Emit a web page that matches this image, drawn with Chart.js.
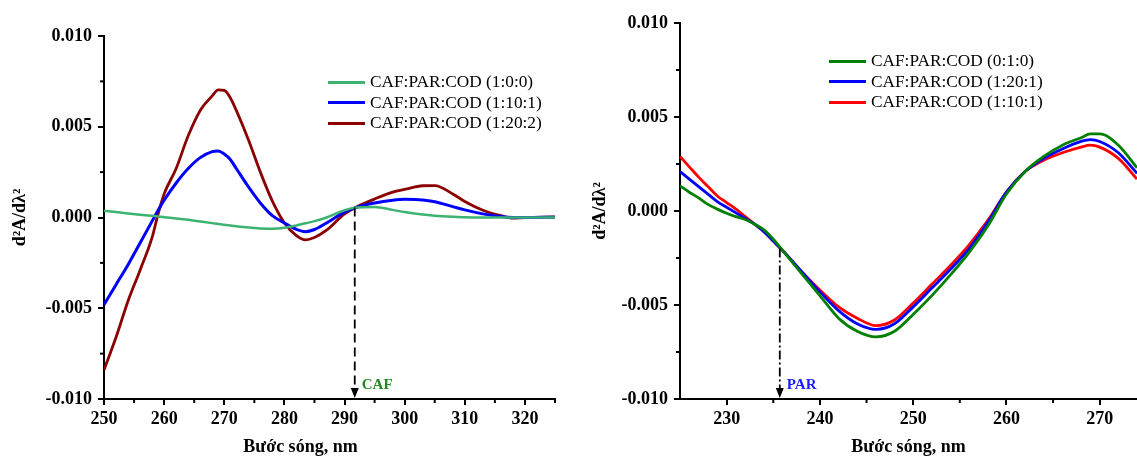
<!DOCTYPE html>
<html>
<head>
<meta charset="utf-8">
<script src="https://cdn.jsdelivr.net/npm/chart.js@4"></script>
<style>
  body { margin: 0; background: #fff; }
  #wrap { position: relative; width: 1137px; height: 456px; overflow: hidden; }
  .panel { position: absolute; top: 0; }
  .legend { position: absolute; font: 17.3px 'Liberation Serif', 'Times New Roman', serif; color: #000; }
  .legend div { display: flex; align-items: center; height: 20.5px; white-space: nowrap; }
  .legend .swatch { display: inline-block; width: 37px; height: 3px; margin-right: 5px; }
</style>
</head>
<body>
<div id="wrap">
  <canvas id="left" class="panel" width="570" height="456" style="left:0"></canvas>
  <canvas id="right" class="panel" width="567" height="456" style="left:570px"></canvas>
  <div id="legendLeft" class="legend" style="left:328px; top:72px"></div>
  <div id="legendRight" class="legend" style="left:829px; top:51px"></div>
</div>
<script>
// ---- left panel (CAF) ----
const cafWavelength = [250, 252, 254, 256, 258, 259, 260, 262, 264, 266, 268, 269, 270, 271, 272, 274, 276, 278, 280, 282, 283.5, 285, 287, 290, 292, 295, 298, 300, 303, 305, 308, 310, 313, 316, 318, 320, 325];
const caf100 = [0.00037, 0.0003, 0.00022, 0.00015, 0.00009, 0.00006, 0.00002, -0.00005, -0.00013, -0.00022, -0.00031, -0.00036, -0.0004, -0.00044, -0.00048, -0.00055, -0.0006, -0.00062, -0.00057, -0.00044, -0.00032, -0.0002, 0, 0.0004, 0.00055, 0.00058, 0.00042, 0.0003, 0.00016, 0.0001, 0.00004, 0.00001, 0, 0, 0, 0, 0];
const caf1101 = [-0.0048, -0.0037, -0.0026, -0.0014, -0.0002, 0.0004, 0.00095, 0.0019, 0.0027, 0.0033, 0.00363, 0.00367, 0.0035, 0.0032, 0.0027, 0.0017, 0.0008, 0.0001, -0.0003, -0.00065, -0.00078, -0.00066, -0.0003, 0.0003, 0.00056, 0.0008, 0.00095, 0.001, 0.00097, 0.00087, 0.0006, 0.00042, 0.0002, 0.00005, 0, 0, 0.00002];
const caf1202 = [-0.0084, -0.0066, -0.0046, -0.0029, -0.0011, 0.0002, 0.0013, 0.0027, 0.0045, 0.0059, 0.0067, 0.00703, 0.007, 0.0066, 0.0059, 0.0043, 0.0025, 0.0009, -0.0003, -0.001, -0.00123, -0.0011, -0.0007, 0.0002, 0.00058, 0.00102, 0.0014, 0.00155, 0.00175, 0.00176, 0.0013, 0.00088, 0.0004, 0.0001, -0.00003, 0, 0.00003];
const cafLabels = ["CAF:PAR:COD (1:0:0)", "CAF:PAR:COD (1:10:1)", "CAF:PAR:COD (1:20:2)"];
const cafXTicks = [250, 260, 270, 280, 290, 300, 310, 320];
const cafXMinor = [255, 265, 275, 285, 295, 305, 315, 325];

// ---- right panel (PAR) ----
const parWavelength = [225, 226, 227, 228, 229, 230, 231, 232, 233, 234, 235, 236, 238, 240, 242, 244, 246, 248, 250, 252, 254, 256, 258, 260, 262, 264, 266, 268, 269, 270, 272, 274];
const par010 = [0.00134, 0.001, 0.0007, 0.00035, 0.0001, -0.00012, -0.0003, -0.00045, -0.0007, -0.001, -0.0015, -0.0021, -0.0033, -0.0045, -0.0057, -0.0064, -0.0067, -0.0064, -0.0055, -0.0045, -0.0034, -0.0022, -0.0008, 0.0009, 0.0021, 0.0029, 0.0035, 0.0039, 0.0041, 0.0041, 0.0035, 0.0023];
const par1201 = [0.0021, 0.0017, 0.0013, 0.0009, 0.0005, 0.0002, -0.0001, -0.0004, -0.0007, -0.0011, -0.0016, -0.0021, -0.0032, -0.0043, -0.0053, -0.006, -0.0063, -0.006, -0.0051, -0.0041, -0.0031, -0.002, -0.0006, 0.001, 0.0021, 0.0028, 0.0033, 0.0037, 0.0038, 0.0037, 0.0031, 0.002];
const par1101 = [0.0029, 0.00235, 0.0018, 0.0013, 0.0008, 0.00045, 0.0001, -0.0003, -0.0007, -0.0011, -0.0016, -0.0021, -0.0032, -0.0042, -0.0051, -0.0057, -0.0061, -0.0058, -0.0049, -0.0039, -0.0029, -0.0018, -0.0005, 0.001, 0.0021, 0.0027, 0.0031, 0.0034, 0.0035, 0.0034, 0.0028, 0.0017];
const parLabels = ["CAF:PAR:COD (0:1:0)", "CAF:PAR:COD (1:20:1)", "CAF:PAR:COD (1:10:1)"];
const parXTicks = [230, 240, 250, 260, 270];
const parXMinor = [235, 245, 255, 265];

// shared y axis
const yTicks = [-0.01, -0.005, 0, 0.005, 0.01];
const yMinor = [-0.0075, -0.0025, 0.0025, 0.0075];

const FONT = "'Liberation Serif', 'Times New Roman', serif";
Chart.defaults.font.family = FONT;
Chart.defaults.color = "#000";

const pts = (xs, ys) => xs.map((x, i) => ({ x: x, y: ys[i] }));

// small ticks between the labelled ones
const minorTicks = {
  id: "minorTicks",
  afterDraw(chart, args, o) {
    const { ctx, chartArea, scales } = chart;
    ctx.save();
    ctx.strokeStyle = "#000";
    ctx.lineWidth = 2;
    o.x.forEach((v) => {
      const px = scales.x.getPixelForValue(v);
      ctx.beginPath();
      ctx.moveTo(px, chartArea.bottom);
      ctx.lineTo(px, chartArea.bottom + 4);
      ctx.stroke();
    });
    o.y.forEach((v) => {
      const py = scales.y.getPixelForValue(v);
      ctx.beginPath();
      ctx.moveTo(chartArea.left, py);
      ctx.lineTo(chartArea.left - 4, py);
      ctx.stroke();
    });
    ctx.restore();
  },
};

// dashed drop line with arrow + label
const marker = {
  id: "marker",
  afterDatasetsDraw(chart, args, o) {
    const { ctx, chartArea, scales } = chart;
    const px = scales.x.getPixelForValue(o.x);
    const top = scales.y.getPixelForValue(o.y);
    const tip = chartArea.bottom - 1;
    ctx.save();
    ctx.strokeStyle = "#000";
    ctx.lineWidth = 1.8;
    ctx.setLineDash(o.dash);
    ctx.beginPath();
    ctx.moveTo(px, top);
    ctx.lineTo(px, tip - 9);
    ctx.stroke();
    ctx.setLineDash([]);
    ctx.fillStyle = "#000";
    ctx.beginPath();
    ctx.moveTo(px - 4, tip - 10);
    ctx.lineTo(px + 4, tip - 10);
    ctx.lineTo(px, tip);
    ctx.closePath();
    ctx.fill();
    ctx.font = "bold 15px " + FONT;
    ctx.fillStyle = o.color;
    ctx.textBaseline = "middle";
    ctx.fillText(o.label, px + 7, chartArea.bottom - 14);
    ctx.restore();
  },
};

const xTitle = {
  id: "xTitle",
  afterDraw(chart, args, o) {
    const { ctx, chartArea } = chart;
    ctx.save();
    ctx.font = "bold 18px " + FONT;
    ctx.fillStyle = "#000";
    ctx.textAlign = "center";
    ctx.textBaseline = "alphabetic";
    ctx.fillText(o.text, (chartArea.left + chartArea.right) / 2 + o.offset, chart.height - 4);
    ctx.restore();
  },
};

function makeChart(id, cfg) {
  return new Chart(document.getElementById(id), {
    type: "line",
    data: {
      datasets: cfg.series.map((s, i) => ({
        label: cfg.labels[i],
        data: pts(cfg.xs, s),
        borderColor: cfg.colors[i],
        borderWidth: cfg.widths[i],
        pointRadius: 0,
        cubicInterpolationMode: "monotone",
      })),
    },
    options: {
      responsive: false,
      animation: false,
      layout: { padding: cfg.padding },
      plugins: {
        legend: { display: false },
        tooltip: { enabled: false },
        minorTicks: { x: cfg.xMinor, y: yMinor },
        marker: cfg.marker,
        xTitle: { text: "Bước sóng, nm", offset: cfg.titleOffset },
      },
      scales: {
        x: {
          type: "linear",
          min: cfg.xMin,
          max: cfg.xMax,
          afterBuildTicks: (s) => { s.ticks = cfg.xTicks.map((v) => ({ value: v })); },
          afterFit: (s) => { s.height = 57; },
          ticks: { font: { size: 18, weight: "bold" }, padding: 4, maxRotation: 0, autoSkip: false },
          grid: { drawOnChartArea: false, color: "#000", lineWidth: 2, tickLength: 6 },
          border: { color: "#000", width: 2 },
        },
        y: {
          min: -0.01,
          max: 0.01,
          afterBuildTicks: (s) => { s.ticks = yTicks.map((v) => ({ value: v })); },
          afterFit: (s) => { s.width = cfg.yWidth; },
          ticks: { font: { size: 18, weight: "bold" }, padding: 6, callback: (v) => v.toFixed(3) },
          grid: { drawOnChartArea: false, color: "#000", lineWidth: 2, tickLength: 6 },
          border: { color: "#000", width: 2 },
          title: { display: true, text: "d²A/dλ²", font: { size: 18, weight: "bold" }, padding: { top: cfg.yTitlePad } },
        },
      },
    },
    plugins: [minorTicks, marker, xTitle],
  });
}

function buildLegend(chart, id) {
  const box = document.getElementById(id);
  chart.data.datasets.forEach((ds) => {
    const row = document.createElement("div");
    const sw = document.createElement("span");
    sw.className = "swatch";
    sw.style.background = ds.borderColor;
    row.appendChild(sw);
    row.appendChild(document.createTextNode(ds.label));
    box.appendChild(row);
  });
}

const leftChart = makeChart("left", {
  xs: cafWavelength,
  series: [caf100, caf1101, caf1202],
  labels: cafLabels,
  colors: ["#3CB371", "#0000FF", "#8B0000"],
  widths: [2.5, 3, 2.8],
  xMin: 250, xMax: 325,
  xTicks: cafXTicks, xMinor: cafXMinor,
  padding: { top: 36, right: 15, left: 0, bottom: 0 },
  yWidth: 104, yTitlePad: 10, titleOffset: -29,
  marker: { x: 291.7, y: 0.00055, dash: [9, 5], label: "CAF", color: "#1F8A1F" },
});

const rightChart = makeChart("right", {
  xs: parWavelength,
  series: [par010, par1201, par1101],
  labels: parLabels,
  colors: ["#008000", "#0000FF", "#FF0000"],
  widths: [2.8, 2.8, 2.8],
  xMin: 225, xMax: 274,
  xTicks: parXTicks, xMinor: parXMinor,
  padding: { top: 23, right: 0, left: 0, bottom: 0 },
  yWidth: 110, yTitlePad: 20, titleOffset: 0,
  marker: { x: 235.7, y: -0.002, dash: [9, 3, 2, 3], label: "PAR", color: "#1A1AFF" },
});

buildLegend(leftChart, "legendLeft");
buildLegend(rightChart, "legendRight");
</script>
</body>
</html>
